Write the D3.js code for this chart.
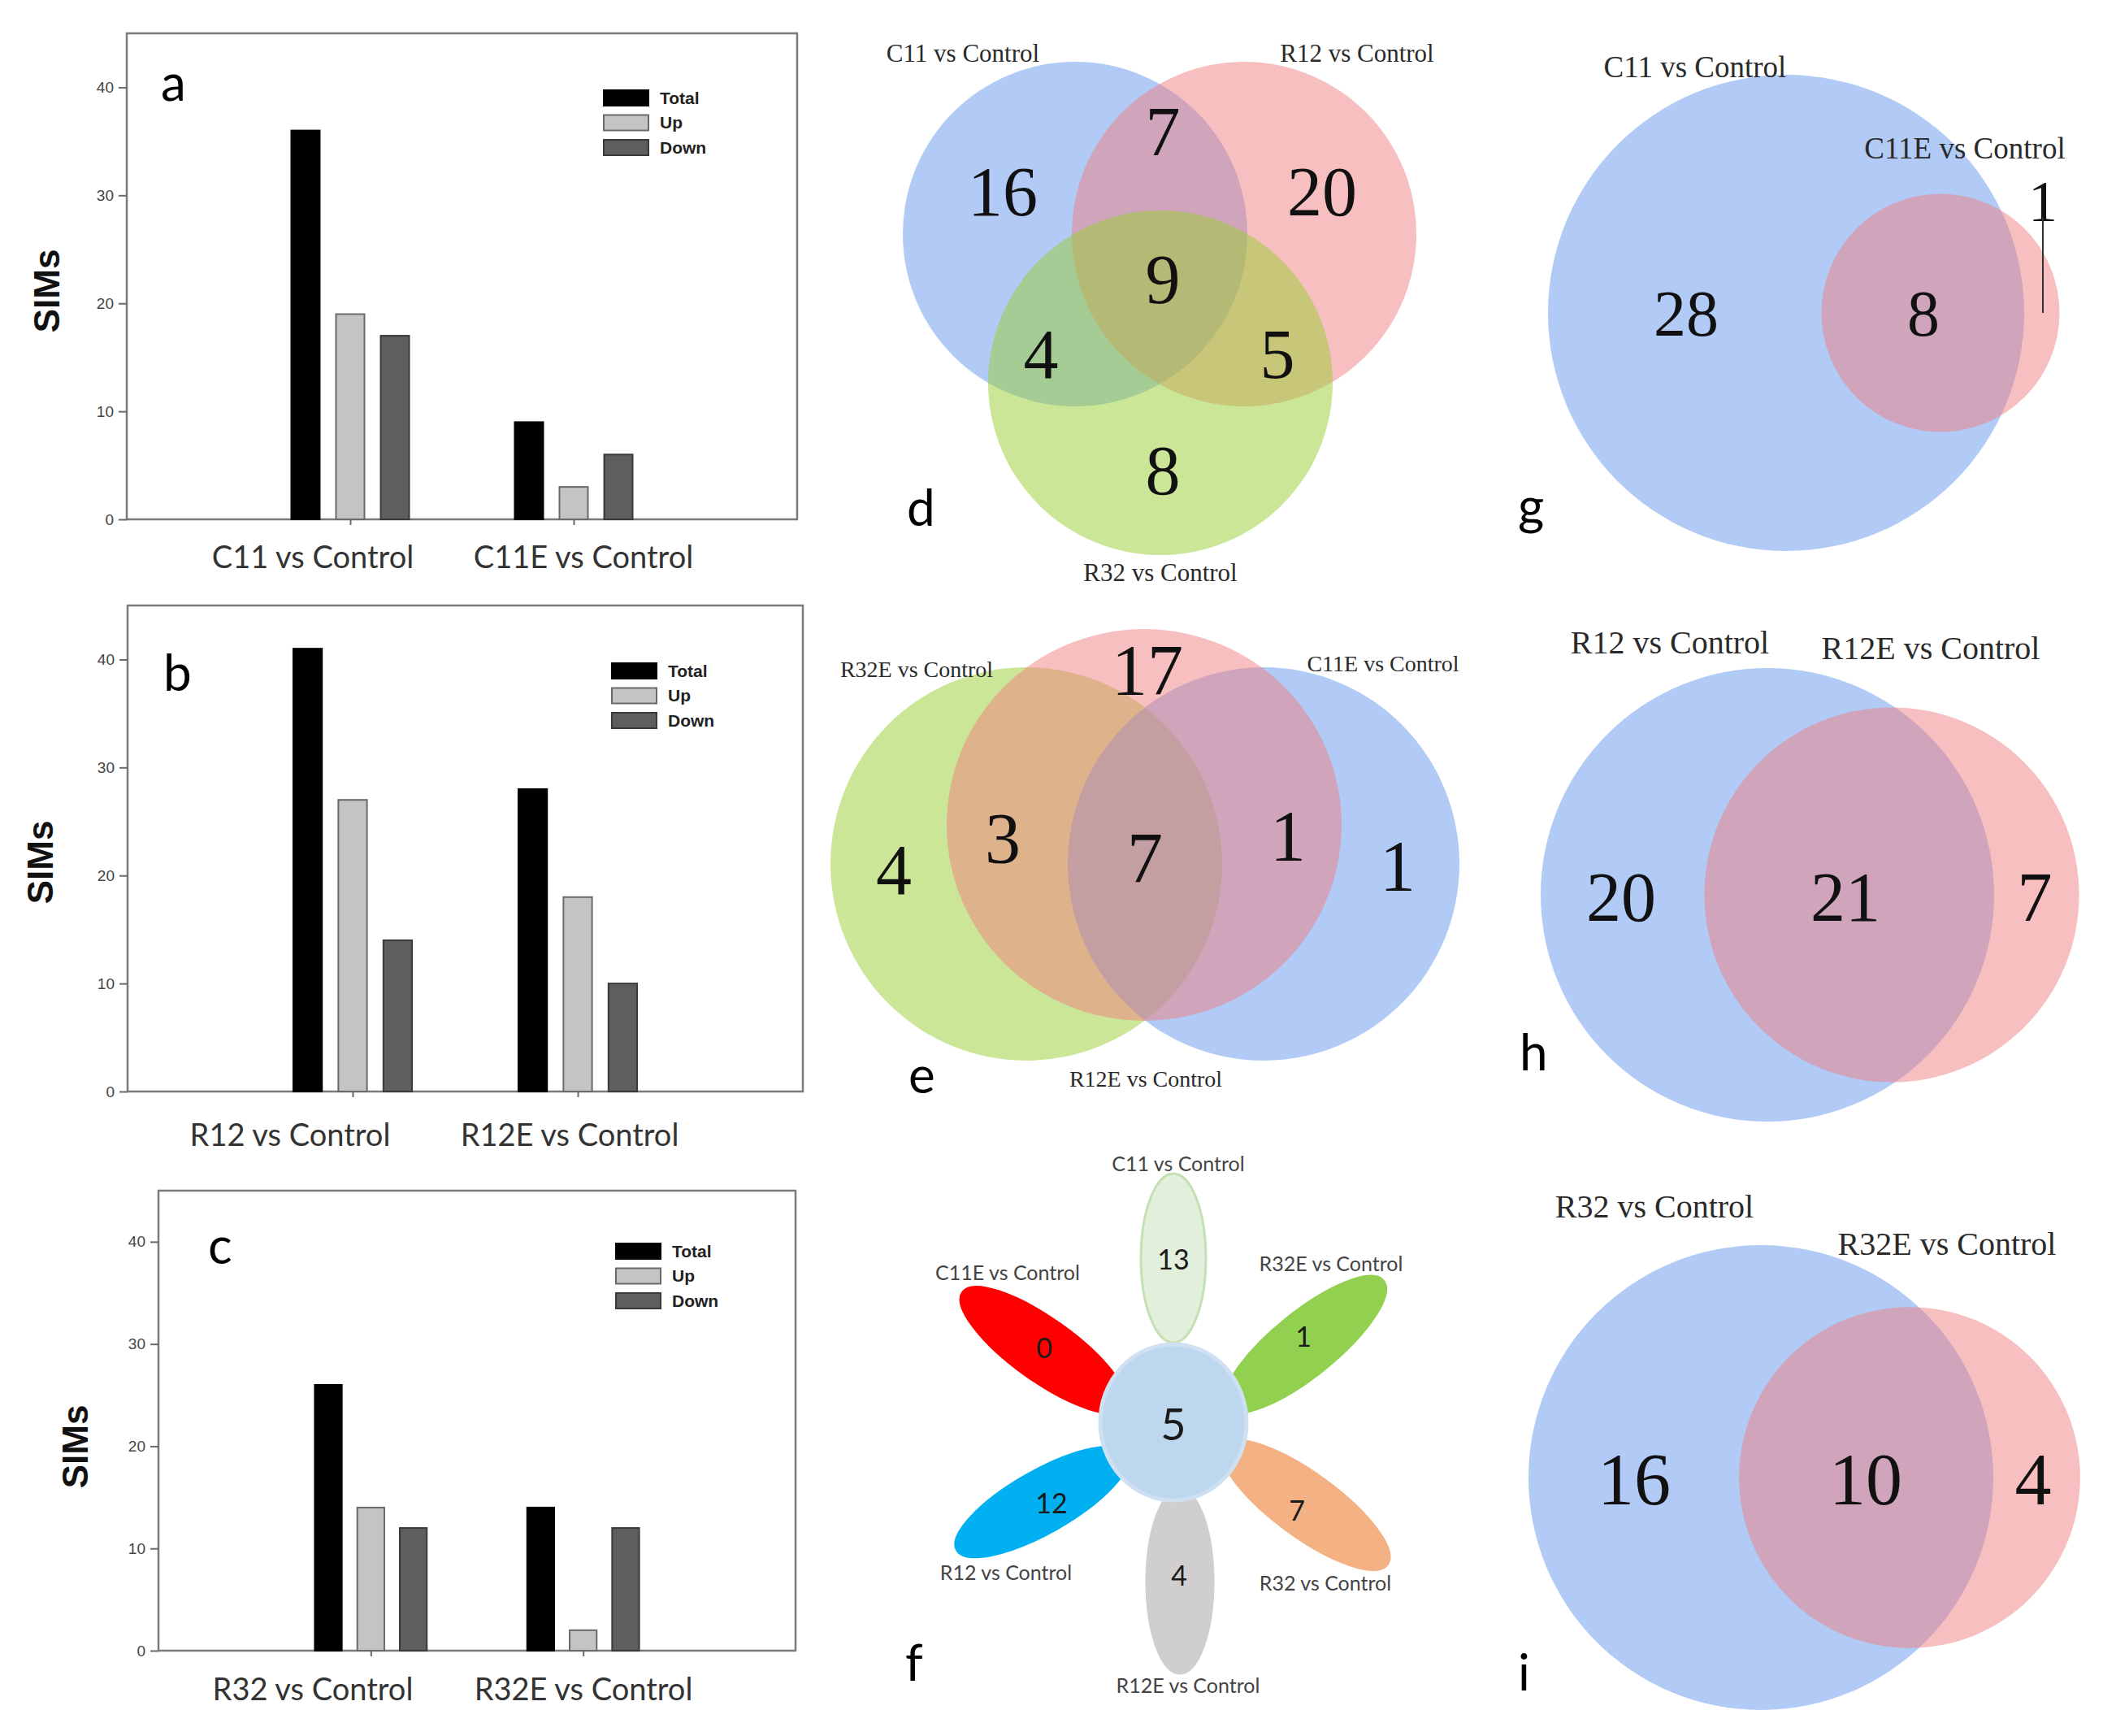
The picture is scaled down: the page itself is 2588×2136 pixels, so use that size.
<!DOCTYPE html>
<html><head><meta charset="utf-8">
<script src="https://cdn.jsdelivr.net/npm/d3@7/dist/d3.min.js"></script>
<style>body{margin:0;background:#fff} svg{display:block}</style>
</head><body>
<script>
// ---------------- DATA ----------------
const seriesNames = ["Total", "Up", "Down"];
const yTicks = [0, 10, 20, 30, 40];
const yMax = 45;

const catsA = ["C11 vs Control", "C11E vs Control"];
const totalA = [36, 9];
const upA = [19, 3];
const downA = [17, 6];

const catsB = ["R12 vs Control", "R12E vs Control"];
const totalB = [41, 28];
const upB = [27, 18];
const downB = [14, 10];

const catsC = ["R32 vs Control", "R32E vs Control"];
const totalC = [26, 14];
const upC = [14, 2];
const downC = [12, 12];

// three-set venn (d): C11, R12, R32
const vennDSets = ["C11 vs Control", "R12 vs Control", "R32 vs Control"];
const vennDCounts = [16, 7, 20, 9, 4, 5, 8]; // C11 only, C11&R12, R12 only, all, C11&R32, R12&R32, R32 only

// three-set venn (e): R32E, R12E, C11E
const vennESets = ["R32E vs Control", "R12E vs Control", "C11E vs Control"];
const vennECounts = [4, 3, 17, 7, 1, 1]; // R32E only, R32E&R12E, R12E only, all, R12E&C11E, C11E only

// flower (f)
const flowerSets = ["C11 vs Control", "R32E vs Control", "R32 vs Control", "R12E vs Control", "R12 vs Control", "C11E vs Control"];
const flowerCounts = [13, 1, 7, 4, 12, 0];
const flowerCore = 5;

// two-set venns (g, h, i): [A only, A&B, B only]
const vennGSets = ["C11 vs Control", "C11E vs Control"];
const vennGCounts = [28, 8, 1];
const vennHSets = ["R12 vs Control", "R12E vs Control"];
const vennHCounts = [20, 21, 7];
const vennISets = ["R32 vs Control", "R32E vs Control"];
const vennICounts = [16, 10, 4];

// ---------------- DRAW ----------------
const W = 2588, H = 2136;
const svg = d3.select("body").append("svg").attr("width", W).attr("height", H);
svg.append("rect").attr("width", W).attr("height", H).attr("fill", "#fff");

const barColors = d3.scaleOrdinal().domain(seriesNames).range(["#000000", "#c4c4c4", "#5e5e5e"]);
const barStroke = d3.scaleOrdinal().domain(seriesNames).range(["#000000", "#6a6a6a", "#3a3a3a"]);

function drawBars(cfg) {
  const g = svg.append("g");
  const y = d3.scaleLinear().domain([0, yMax]).range([cfg.bottom, cfg.top]);
  const x = d3.scalePoint().domain(cfg.cats).range([cfg.left, cfg.right]).padding(1);
  const wid = cfg.right - cfg.left;
  const xs = d3.scaleBand().domain(seriesNames).range([-wid * 0.0879, wid * 0.0879]).paddingInner(0.364);
  const vals = {Total: cfg.total, Up: cfg.up, Down: cfg.down};

  // frame
  g.append("rect").attr("x", cfg.left).attr("y", cfg.top)
    .attr("width", wid).attr("height", cfg.bottom - cfg.top)
    .attr("fill", "none").attr("stroke", "#7a7a7a").attr("stroke-width", 2.5);

  // bars
  seriesNames.forEach(s => {
    g.selectAll(null).data(cfg.cats).enter().append("rect")
      .attr("x", (c) => x(c) + xs(s))
      .attr("y", (c, i) => y(vals[s][i]))
      .attr("width", xs.bandwidth())
      .attr("height", (c, i) => y(0) - y(vals[s][i]))
      .attr("fill", barColors(s))
      .attr("stroke", barStroke(s)).attr("stroke-width", 2);
  });

  // y axis
  const ax = g.append("g").attr("transform", `translate(${cfg.left},0)`)
    .call(d3.axisLeft(y).tickValues(yTicks).tickSize(10).tickPadding(6));
  ax.select(".domain").remove();
  ax.selectAll("line").attr("stroke", "#6a6a6a").attr("stroke-width", 2);
  ax.selectAll("text").attr("font-family", "Liberation Sans, Arial, sans-serif")
    .attr("font-size", 19).attr("fill", "#444");

  // x axis ticks (small)
  const xa = g.append("g").attr("transform", `translate(0,${cfg.bottom})`)
    .call(d3.axisBottom(x).tickSize(7).tickFormat(""));
  xa.select(".domain").remove();
  xa.selectAll("line").attr("stroke", "#6a6a6a").attr("stroke-width", 2);

  // category labels
  g.selectAll(null).data(cfg.cats).enter().append("text")
    .attr("x", (c, i) => cfg.catX[i]).attr("y", cfg.catY)
    .attr("text-anchor", "middle")
    .attr("font-family", "Lato, sans-serif").attr("font-size", 38).attr("fill", "#333")
    .text(c => c);

  // y title
  g.append("text").attr("transform", `translate(${cfg.simsX},${cfg.simsY}) rotate(-90)`)
    .attr("text-anchor", "middle").attr("dy", "0.35em")
    .attr("font-family", "Liberation Sans, Arial, sans-serif").attr("font-weight", "bold")
    .attr("font-size", 44).attr("fill", "#111").text("SIMs");

  // panel letter
  g.append("text").attr("x", cfg.letterX).attr("y", cfg.letterY)
    .attr("font-family", "Lato, sans-serif").attr("font-size", 62).attr("fill", "#000").text(cfg.letter);

  // legend
  const lg = g.append("g").attr("transform", `translate(${cfg.legX},${cfg.legY})`);
  seriesNames.forEach((s, i) => {
    lg.append("rect").attr("x", 0).attr("y", i * 30.5).attr("width", 55).attr("height", 19)
      .attr("fill", barColors(s)).attr("stroke", barStroke(s)).attr("stroke-width", 2);
    lg.append("text").attr("x", 69).attr("y", i * 30.5 + 9.5).attr("dy", "0.35em")
      .attr("font-family", "Liberation Sans, Arial, sans-serif").attr("font-weight", "bold")
      .attr("font-size", 21).attr("fill", "#222").text(s);
  });
}

drawBars({cats: catsA, total: totalA, up: upA, down: downA,
  left: 156, right: 981, top: 41, bottom: 639,
  catX: [385, 718], catY: 699, simsX: 58, simsY: 358,
  letter: "a", letterX: 198, letterY: 124, legX: 743, legY: 111});
drawBars({cats: catsB, total: totalB, up: upB, down: downB,
  left: 157, right: 988, top: 745, bottom: 1343,
  catX: [357, 701], catY: 1410, simsX: 50, simsY: 1061,
  letter: "b", letterX: 201, letterY: 850, legX: 753, legY: 816});
drawBars({cats: catsC, total: totalC, up: upC, down: downC,
  left: 195, right: 979, top: 1465, bottom: 2031,
  catX: [385, 718], catY: 2092, simsX: 93, simsY: 1780,
  letter: "c", letterX: 256, letterY: 1555, legX: 758, legY: 1530});

// ---------- Venn helpers ----------
const vennColor = {blue: "#6495ED", red: "#F08080", green: "#9ACD32"};
const serif = "Liberation Serif, Times New Roman, serif";

function drawVenn(cfg) {
  const g = svg.append("g");
  g.selectAll(null).data(cfg.circles).enter().append("ellipse")
    .attr("cx", d => d.cx).attr("cy", d => d.cy).attr("rx", d => d.rx).attr("ry", d => d.ry)
    .attr("fill", d => vennColor[d.color]).attr("fill-opacity", 0.5);
  g.selectAll(null).data(cfg.sets).enter().append("text")
    .attr("x", (d, i) => cfg.setPos[i][0]).attr("y", (d, i) => cfg.setPos[i][1])
    .attr("dy", "0.35em").attr("text-anchor", "middle")
    .attr("font-family", serif).attr("font-size", cfg.setSize).attr("fill", "#2a2a2a")
    .text(d => d);
  g.selectAll(null).data(cfg.counts).enter().append("text")
    .attr("x", (d, i) => cfg.countPos[i][0]).attr("y", (d, i) => cfg.countPos[i][1])
    .attr("dy", "0.34em").attr("text-anchor", "middle")
    .attr("font-family", serif)
    .attr("font-size", (d, i) => (cfg.countSizes ? cfg.countSizes[i] : cfg.countSize))
    .attr("fill", "#111")
    .text(d => d);
  g.append("text").attr("x", cfg.letter[1]).attr("y", cfg.letter[2])
    .attr("font-family", "Lato, sans-serif").attr("font-size", 62).attr("fill", "#000").text(cfg.letter[0]);
  return g;
}

// d
drawVenn({
  circles: [
    {cx: 1323, cy: 288, rx: 212, ry: 212, color: "blue"},
    {cx: 1531, cy: 288, rx: 212, ry: 212, color: "red"},
    {cx: 1428, cy: 471, rx: 212, ry: 212, color: "green"}],
  sets: vennDSets, setPos: [[1185, 65], [1670, 65], [1428, 704]], setSize: 31,
  counts: vennDCounts,
  countPos: [[1234, 236], [1431, 162], [1627, 236], [1431, 344], [1281, 436], [1572, 436], [1431, 579]],
  countSize: 86, letter: ["d", 1116, 647]
});

// e
drawVenn({
  circles: [
    {cx: 1263, cy: 1063, rx: 241, ry: 242, color: "green"},
    {cx: 1555, cy: 1063, rx: 241, ry: 242, color: "blue"},
    {cx: 1408, cy: 1015, rx: 243, ry: 241, color: "red"}],
  sets: vennESets, setPos: [[1128, 823], [1410, 1327], [1702, 816]], setSize: 28,
  counts: vennECounts,
  countPos: [[1100, 1070], [1234, 1031], [1412, 824], [1409, 1055], [1585, 1028], [1720, 1065]],
  countSize: 88, letter: ["e", 1118, 1345]
});

// two-set venns with area-proportional circles
function drawVenn2(sets, counts, cfg) {
  const totA = counts[0] + counts[1], totB = counts[1] + counts[2];
  const r = d3.scaleSqrt().domain([0, totA]).range([0, cfg.rA]);
  const g = drawVenn({
    circles: [
      {cx: cfg.ax, cy: cfg.cy, rx: r(totA), ry: r(totA), color: "blue"},
      {cx: cfg.bx, cy: cfg.cy, rx: r(totB), ry: r(totB), color: "red"}],
    sets: sets, setPos: cfg.setPos, setSize: cfg.setSize,
    counts: counts, countPos: cfg.countPos, countSize: cfg.countSize, countSizes: cfg.countSizes,
    letter: cfg.letter
  });
  if (cfg.leader) {
    g.append("line").attr("x1", cfg.leader[0]).attr("x2", cfg.leader[0])
      .attr("y1", cfg.leader[1]).attr("y2", cfg.leader[2])
      .attr("stroke", "#333").attr("stroke-width", 2);
  }
}

drawVenn2(vennGSets, vennGCounts, {
  ax: 2198, bx: 2388, cy: 385, rA: 293,
  setPos: [[2086, 82], [2418, 182]], setSize: 37,
  countPos: [[2075, 386], [2367, 386], [2514, 248]], countSize: 80, countSizes: [80, 80, 72],
  letter: ["g", 1868, 645], leader: [2514, 268, 385]
});
drawVenn2(vennHSets, vennHCounts, {
  ax: 2175, bx: 2328, cy: 1101, rA: 279,
  setPos: [[2055, 790], [2376, 797]], setSize: 40,
  countPos: [[1995, 1104], [2271, 1104], [2504, 1104]], countSize: 86,
  letter: ["h", 1870, 1317]
});
drawVenn2(vennISets, vennICounts, {
  ax: 2167, bx: 2350, cy: 1818, rA: 286,
  setPos: [[2036, 1484], [2396, 1530]], setSize: 40,
  countPos: [[2011, 1820], [2296, 1820], [2502, 1820]], countSize: 90,
  letter: ["i", 1868, 2080]
});

// ---------- flower (f) ----------
const petalColors = d3.scaleOrdinal().domain(flowerSets)
  .range(["#e2efda", "#92d050", "#f4b183", "#d0cece", "#00b0f0", "#ff0000"]);
const petalStroke = d3.scaleOrdinal().domain(flowerSets)
  .range(["#c5e0b4", "#92d050", "#f4b183", "#d0cece", "#00b0f0", "#ff0000"]);
// petal layout: centre x, centre y, angle(deg), long semi-axis, short semi-axis
const petalLayout = [
  [1444, 1548, 90, 104, 40],
  [1606, 1654, -39, 124, 39],
  [1607, 1852, 36, 124, 39],
  [1452, 1946, 90, 113, 41],
  [1282, 1848, -29.5, 120, 38],
  [1284, 1661, 35.5, 122, 38]];
const numPos = [[1444, 1550], [1604, 1645], [1596, 1859], [1451, 1939], [1294, 1850], [1285, 1659]];
const labPos = [[1450, 1432], [1638, 1555], [1631, 1948], [1462, 2074], [1238, 1935], [1240, 1566]];

const fg = svg.append("g");
fg.selectAll(null).data(flowerSets).enter().append("ellipse")
  .attr("transform", (d, i) => `translate(${petalLayout[i][0]},${petalLayout[i][1]}) rotate(${petalLayout[i][2]})`)
  .attr("rx", (d, i) => petalLayout[i][3]).attr("ry", (d, i) => petalLayout[i][4])
  .attr("fill", d => petalColors(d)).attr("stroke", d => petalStroke(d)).attr("stroke-width", 3);
fg.append("ellipse").attr("cx", 1444).attr("cy", 1750).attr("rx", 90).attr("ry", 96)
  .attr("fill", "#bdd7ee").attr("stroke", "#cfe0f2").attr("stroke-width", 5);
fg.selectAll(null).data(flowerCounts).enter().append("text")
  .attr("x", (d, i) => numPos[i][0]).attr("y", (d, i) => numPos[i][1])
  .attr("dy", "0.36em").attr("text-anchor", "middle")
  .attr("font-family", "Lato, sans-serif").attr("font-size", 34).attr("fill", "#1a1a1a")
  .text(d => d);
fg.append("text").attr("x", 1444).attr("y", 1753).attr("dy", "0.36em").attr("text-anchor", "middle")
  .attr("font-family", "Lato, sans-serif").attr("font-size", 54).attr("fill", "#1a1a1a").text(flowerCore);
fg.selectAll(null).data(flowerSets).enter().append("text")
  .attr("x", (d, i) => labPos[i][0]).attr("y", (d, i) => labPos[i][1])
  .attr("dy", "0.35em").attr("text-anchor", "middle")
  .attr("font-family", "Lato, sans-serif").attr("font-size", 25).attr("fill", "#444")
  .text(d => d);
fg.append("text").attr("x", 1114).attr("y", 2068)
  .attr("font-family", "Lato, sans-serif").attr("font-size", 62).attr("fill", "#000").text("f");
</script>
</body></html>
